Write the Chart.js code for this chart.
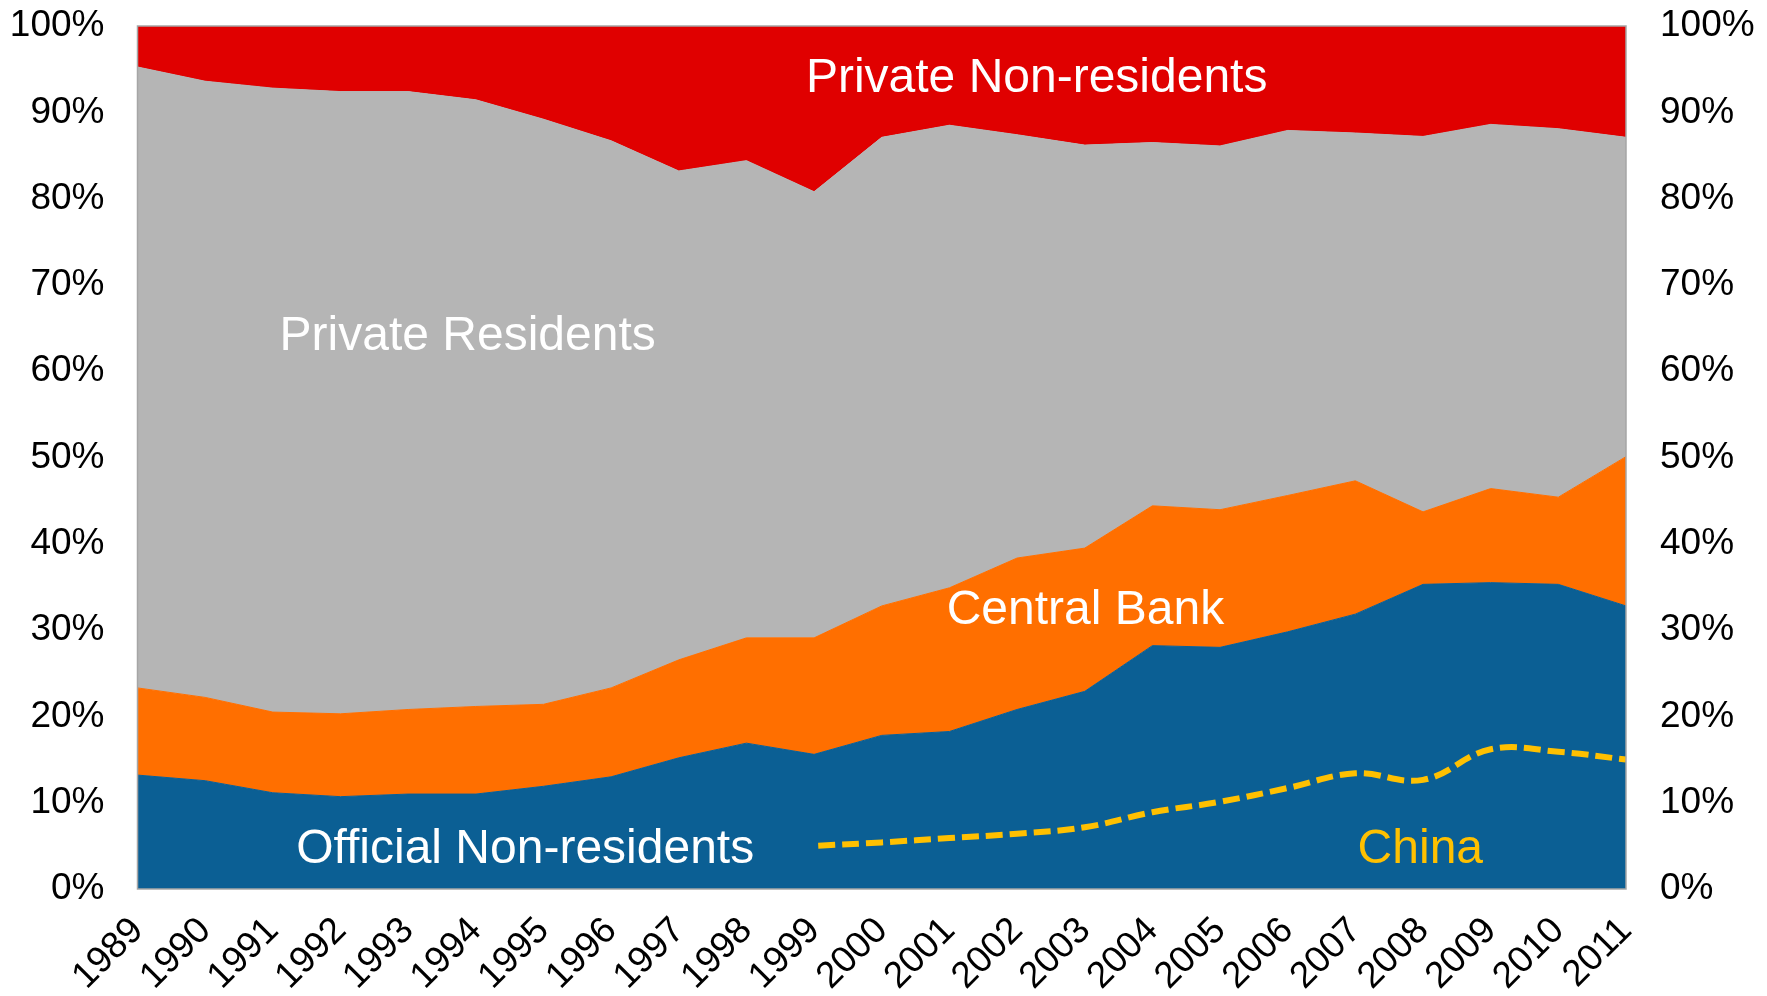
<!DOCTYPE html>
<html>
<head>
<meta charset="utf-8">
<script src="https://cdn.jsdelivr.net/npm/chart.js@4.4.0/dist/chart.umd.min.js"></script>
<style>
  html, body { margin: 0; padding: 0; background: #fff; }
  canvas { display: block; }
</style>
</head>
<body>
<canvas id="holdersChart" width="1767" height="996"></canvas>
<script>
// Share of outstanding debt by holder, % of total
const years = ['1989', '1990', '1991', '1992', '1993', '1994', '1995', '1996', '1997', '1998', '1999', '2000',
               '2001', '2002', '2003', '2004', '2005', '2006', '2007', '2008', '2009', '2010', '2011'];
const officialNonResidents = [13.2, 12.55, 11.15, 10.7, 11.0, 11.0, 11.9, 13.0, 15.2, 16.9, 15.6, 17.8,
                              18.25, 20.8, 22.9, 28.2, 28.0, 29.8, 31.85, 35.3, 35.5, 35.3, 32.8];
const centralBank = [10.1, 9.65, 9.35, 9.6, 9.8, 10.15, 9.5, 10.3, 11.35, 12.2, 13.5, 15.0,
                     16.65, 17.55, 16.6, 16.2, 15.95, 15.8, 15.45, 8.4, 10.9, 10.1, 17.3];
const privateResidents = [71.95, 71.4, 72.3, 72.1, 71.6, 70.3, 67.8, 63.4, 56.65, 55.3, 51.7, 54.3,
                          53.6, 49.05, 46.7, 42.1, 42.15, 42.3, 40.3, 43.5, 42.2, 42.7, 37.0];
const privateNonResidents = [4.75, 6.4, 7.2, 7.6, 7.6, 8.55, 10.8, 13.3, 16.8, 15.6, 19.2, 12.9,
                             11.5, 12.6, 13.8, 13.5, 13.9, 12.1, 12.4, 12.8, 11.4, 11.9, 12.9];
// China's holdings, reported from 1999 onwards
const china = [null, null, null, null, null, null, null, null, null, null, 5.0, 5.4,
               5.9, 6.4, 7.15, 8.9, 10.1, 11.7, 13.4, 12.65, 16.2, 15.9, 15.0];

const tickFont = { family: '"Liberation Sans", Arial, sans-serif', size: 37 };
const labelFont = '48px "Liberation Sans", Arial, sans-serif';

// in-chart series names, placed by category index and share
const areaLabels = [
  { text: 'Private Non-residents', at: 13.29, share: 93.9, color: '#ffffff' },
  { text: 'Private Residents', at: 4.88, share: 64.0, color: '#ffffff' },
  { text: 'Central Bank', at: 14.01, share: 32.2, color: '#ffffff' },
  { text: 'Official Non-residents', at: 5.73, share: 4.5, color: '#ffffff' },
  { text: 'China', at: 18.96, share: 4.5, color: '#ffc000' }
];

const areaLabelPlugin = {
  id: 'areaLabels',
  afterDatasetsDraw(chart) {
    const { ctx, chartArea, scales } = chart;
    ctx.save();
    ctx.strokeStyle = '#a6a6a6';
    ctx.lineWidth = 1.5;
    ctx.strokeRect(chartArea.left, chartArea.top, chartArea.right - chartArea.left, chartArea.bottom - chartArea.top);
    ctx.font = labelFont;
    ctx.textAlign = 'center';
    ctx.textBaseline = 'middle';
    areaLabels.forEach(l => {
      ctx.fillStyle = l.color;
      ctx.fillText(l.text, scales.x.getPixelForValue(l.at), scales.y.getPixelForValue(l.share));
    });
    ctx.restore();
  }
};

function area(label, data, color, fill) {
  return {
    label: label,
    data: data,
    yAxisID: 'y',
    backgroundColor: color,
    borderColor: color,
    borderWidth: 1,
    fill: fill,
    pointRadius: 0,
    tension: 0,
    order: 1
  };
}

// keep the plot box fixed: no extra room reserved for half-height end labels
function noEdgePadding(scale) {
  scale.paddingTop = 0;
  scale.paddingBottom = 0;
  scale.paddingLeft = 0;
  scale.paddingRight = 0;
}

const ctx = document.getElementById('holdersChart').getContext('2d');
new Chart(ctx, {
  type: 'line',
  data: {
    labels: years,
    datasets: [
      area('Official Non-residents', officialNonResidents, '#0b5f94', 'origin'),
      area('Central Bank', centralBank, '#ff6f00', '-1'),
      area('Private Residents', privateResidents, '#b5b5b5', '-1'),
      area('Private Non-residents', privateNonResidents, '#e00000', '-1'),
      {
        label: 'China',
        data: china,
        yAxisID: 'y2',
        borderColor: '#ffc000',
        borderWidth: 6,
        borderDash: [17, 7],
        borderDashOffset: 20,
        fill: false,
        pointRadius: 0,
        tension: 0.4,
        order: 0
      }
    ]
  },
  options: {
    responsive: false,
    animation: false,
    layout: { padding: { top: 26, left: 0, right: 0, bottom: 0 } },
    plugins: {
      legend: { display: false },
      tooltip: { enabled: false }
    },
    scales: {
      x: {
        grid: { display: false, drawTicks: false },
        border: { display: false },
        ticks: { font: tickFont, color: '#000', maxRotation: 45, minRotation: 45, padding: 20, autoSkip: false },
        afterFit(scale) { noEdgePadding(scale); scale.height = 107; }
      },
      y: {
        stacked: true,
        min: 0,
        max: 100,
        grid: { display: false, drawTicks: false },
        border: { display: false },
        ticks: { stepSize: 10, font: tickFont, color: '#000', padding: 33, callback: v => v + '%' },
        afterFit(scale) { noEdgePadding(scale); scale.width = 137.5; }
      },
      y2: {
        position: 'right',
        min: 0,
        max: 100,
        grid: { display: false, drawTicks: false },
        border: { display: false },
        ticks: { stepSize: 10, font: tickFont, color: '#000', padding: 34, callback: v => v + '%' },
        afterFit(scale) { noEdgePadding(scale); scale.width = 141; }
      }
    }
  },
  plugins: [areaLabelPlugin]
});
</script>
</body>
</html>
